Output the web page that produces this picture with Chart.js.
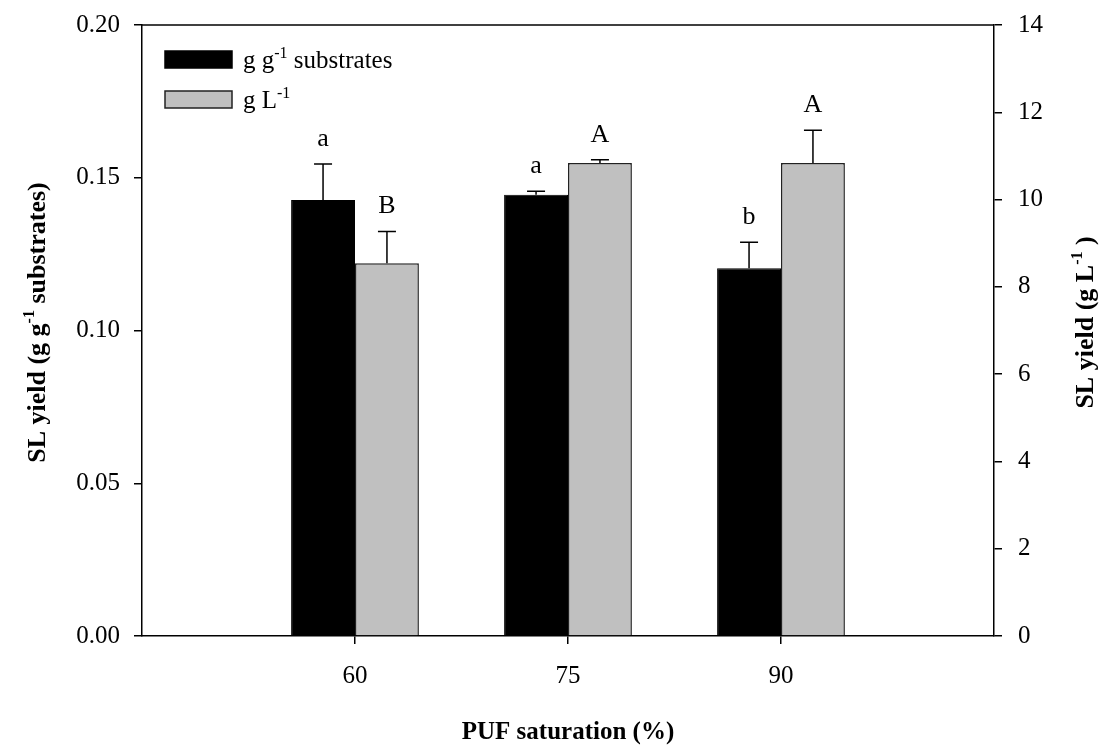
<!DOCTYPE html>
<html lang="en">
<head>
<meta charset="UTF-8">
<title>SL yield vs PUF saturation</title>
<script src="https://cdn.jsdelivr.net/npm/chart.js"></script>
<style>
    html, body {
        margin: 0;
        padding: 0;
        background: #fff;
    }

    .chart-container {
        position: relative;
        width: 1104px;
        height: 747px;
    }
</style>
</head>
<body>

<div class="chart-container">
    <canvas id="yieldChart"></canvas>
</div>

<script>
    // PUF saturation levels (%)
    const saturation = [60, 75, 90];

    // SL yield, g per g substrates (left axis)
    const yieldSubstrate = [0.1427, 0.1444, 0.1204];
    const yieldSubstrateErr = [0.0118, 0.0012, 0.0085];
    const lettersSubstrate = ['a', 'a', 'b'];

    // SL yield, g per L (right axis)
    const yieldLitre = [8.54, 10.84, 10.84];
    const yieldLitreErr = [0.73, 0.07, 0.75];
    const lettersLitre = ['B', 'A', 'A'];

    const leftTicks = [0, 0.05, 0.10, 0.15, 0.20];
    const rightTicks = [0, 2, 4, 6, 8, 10, 12, 14];

    const serif = "'Liberation Serif', 'Times New Roman', serif";

    // text with "-1" superscripts
    function richWidth(ctx, runs, size, weight) {
        let w = 0;
        runs.forEach(r => {
            ctx.font = `${weight} ${r.sup ? Math.round(size * 0.62) : size}px ${serif}`;
            w += ctx.measureText(r.text).width;
        });
        return w;
    }

    function drawRich(ctx, runs, x, y, size, weight, align) {
        const total = richWidth(ctx, runs, size, weight);
        let cx = align === 'center' ? x - total / 2 : x;
        ctx.textAlign = 'left';
        ctx.textBaseline = 'alphabetic';
        runs.forEach(r => {
            const s = r.sup ? Math.round(size * 0.62) : size;
            ctx.font = `${weight} ${s}px ${serif}`;
            ctx.fillText(r.text, cx, r.sup ? y - size * 0.42 : y);
            cx += ctx.measureText(r.text).width;
        });
    }

    const legendItems = [
        { fill: '#000000', stroke: '#000000', runs: [{ text: 'g g' }, { text: '-1', sup: true }, { text: ' substrates' }] },
        { fill: '#c0c0c0', stroke: '#222222', runs: [{ text: 'g L' }, { text: '-1', sup: true }] }
    ];

    const errorBarPlugin = {
        id: 'errorBars',
        afterDatasetsDraw(chart) {
            const ctx = chart.ctx;
            const sets = [
                { errs: yieldSubstrateErr, letters: lettersSubstrate },
                { errs: yieldLitreErr, letters: lettersLitre }
            ];
            ctx.save();
            sets.forEach((s, di) => {
                const meta = chart.getDatasetMeta(di);
                const yScale = chart.scales[meta.yAxisID];
                meta.data.forEach((bar, i) => {
                    const v = chart.data.datasets[di].data[i].y;
                    const top = yScale.getPixelForValue(v + s.errs[i]);
                    ctx.strokeStyle = '#000';
                    ctx.lineWidth = 1.5;
                    ctx.beginPath();
                    ctx.moveTo(bar.x, bar.y);
                    ctx.lineTo(bar.x, top);
                    ctx.moveTo(bar.x - 9, top);
                    ctx.lineTo(bar.x + 9, top);
                    ctx.stroke();

                    ctx.fillStyle = '#000';
                    ctx.font = `26px ${serif}`;
                    ctx.textAlign = 'center';
                    ctx.textBaseline = 'alphabetic';
                    ctx.fillText(s.letters[i], bar.x, top - 18);
                });
            });
            ctx.restore();
        },
        afterDraw(chart) {
            const ctx = chart.ctx;
            const area = chart.chartArea;
            ctx.save();

            // top edge of the frame
            ctx.strokeStyle = '#000';
            ctx.lineWidth = 1.5;
            ctx.beginPath();
            ctx.moveTo(area.left, area.top);
            ctx.lineTo(area.right, area.top);
            ctx.stroke();

            // legend
            legendItems.forEach((item, i) => {
                const y = area.top + 26 + i * 40;
                ctx.fillStyle = item.fill;
                ctx.fillRect(area.left + 23, y, 67, 17);
                ctx.strokeStyle = item.stroke;
                ctx.lineWidth = 1.5;
                ctx.strokeRect(area.left + 23, y, 67, 17);
                ctx.fillStyle = '#000';
                drawRich(ctx, item.runs, area.left + 101, y + 17, 25, 'normal', 'left');
            });

            // axis titles
            const midY = (area.top + area.bottom) / 2 - 8;
            ctx.save();
            ctx.translate(45, midY);
            ctx.rotate(-Math.PI / 2);
            drawRich(ctx, [{ text: 'SL yield (g g' }, { text: '-1', sup: true }, { text: ' substrates)' }], 0, 0, 26, 'bold', 'center');
            ctx.restore();

            ctx.save();
            ctx.translate(1093, midY);
            ctx.rotate(-Math.PI / 2);
            drawRich(ctx, [{ text: 'SL yield (g L' }, { text: '-1', sup: true }, { text: ' )' }], 0, 0, 26, 'bold', 'center');
            ctx.restore();

            drawRich(ctx, [{ text: 'PUF saturation (%)' }], (area.left + area.right) / 2, 739, 25, 'bold', 'center');
            ctx.restore();
        }
    };

    const axisLine = { display: true, color: '#000', width: 1.5 };
    const tickMarks = { display: true, drawOnChartArea: false, drawTicks: true, tickLength: 8, color: '#000', lineWidth: 1.5, offset: false };

    function noPadding(scale) {
        scale.paddingTop = 0;
        scale.paddingBottom = 0;
        scale.paddingLeft = 0;
        scale.paddingRight = 0;
    }

    new Chart(document.getElementById('yieldChart'), {
        type: 'bar',
        data: {
            datasets: [
                {
                    label: 'g g-1 substrates',
                    data: saturation.map((s, i) => ({ x: s, y: yieldSubstrate[i] })),
                    backgroundColor: '#000000',
                    borderColor: '#000000',
                    borderWidth: 1,
                    yAxisID: 'y',
                    categoryPercentage: 0.6,
                    barPercentage: 1.0
                },
                {
                    label: 'g L-1',
                    data: saturation.map((s, i) => ({ x: s, y: yieldLitre[i] })),
                    backgroundColor: '#c0c0c0',
                    borderColor: '#222222',
                    borderWidth: 1.5,
                    yAxisID: 'y2',
                    categoryPercentage: 0.6,
                    barPercentage: 1.0
                }
            ]
        },
        options: {
            responsive: true,
            maintainAspectRatio: false,
            animation: false,
            layout: { padding: { top: 25, left: 0, right: 0, bottom: 0 } },
            plugins: {
                legend: { display: false },
                tooltip: { enabled: false }
            },
            scales: {
                x: {
                    type: 'linear',
                    offset: false,
                    min: 45,
                    max: 105,
                    afterBuildTicks: scale => {
                        scale.ticks = saturation.map(v => ({ value: v }));
                    },
                    afterFit: scale => { scale.height = 111; noPadding(scale); },
                    grid: tickMarks,
                    border: axisLine,
                    ticks: {
                        color: '#000',
                        padding: 17,
                        font: { family: serif, size: 25 },
                        callback: v => String(v)
                    }
                },
                y: {
                    position: 'left',
                    min: 0,
                    max: 0.2,
                    afterBuildTicks: scale => {
                        scale.ticks = leftTicks.map(v => ({ value: v }));
                    },
                    afterFit: scale => { scale.width = 142; noPadding(scale); },
                    grid: tickMarks,
                    border: axisLine,
                    ticks: {
                        color: '#000',
                        padding: 14,
                        font: { family: serif, size: 25 },
                        callback: v => v.toFixed(2)
                    }
                },
                y2: {
                    position: 'right',
                    min: 0,
                    max: 14,
                    afterBuildTicks: scale => {
                        scale.ticks = rightTicks.map(v => ({ value: v }));
                    },
                    afterFit: scale => { scale.width = 110; noPadding(scale); },
                    grid: tickMarks,
                    border: axisLine,
                    ticks: {
                        color: '#000',
                        padding: 16,
                        font: { family: serif, size: 25 },
                        callback: v => String(v)
                    }
                }
            }
        },
        plugins: [errorBarPlugin]
    });
</script>

</body>
</html>
